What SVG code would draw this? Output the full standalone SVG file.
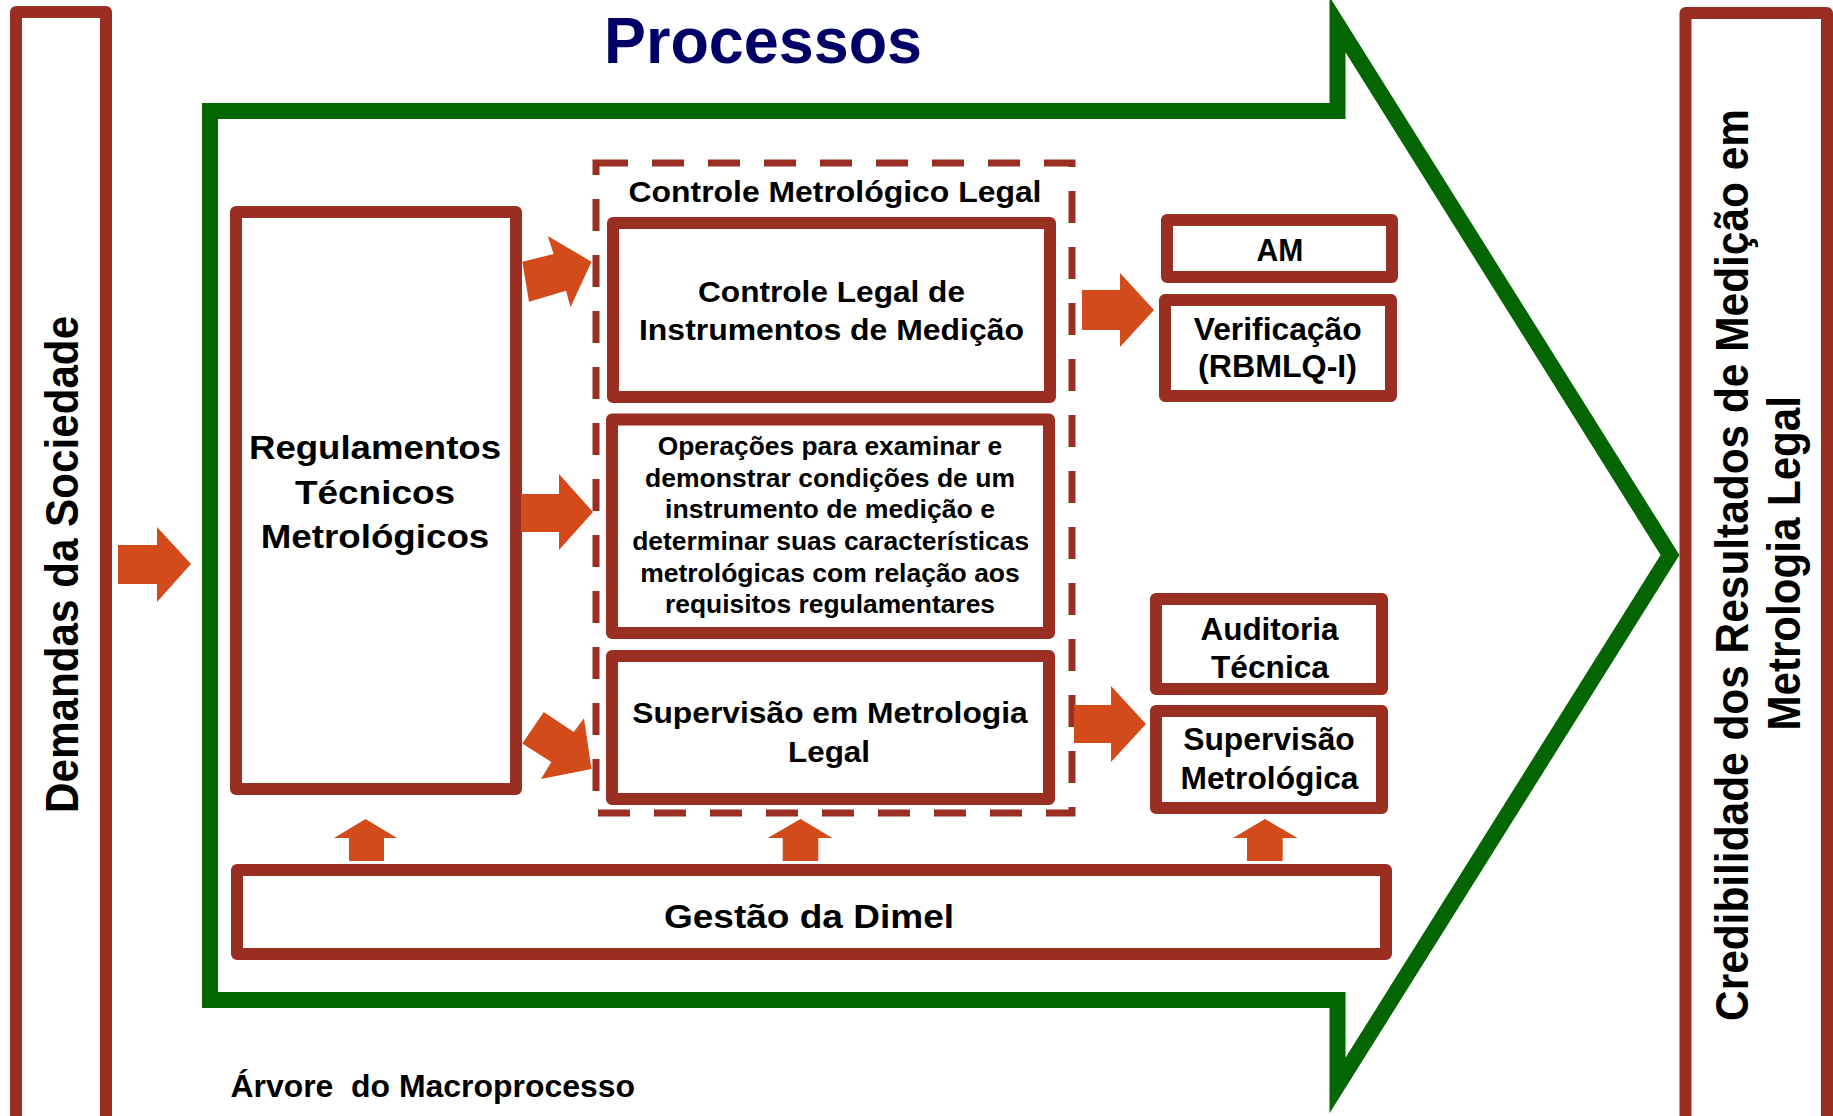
<svg xmlns="http://www.w3.org/2000/svg" width="1833" height="1116" viewBox="0 0 1833 1116">
<style>
.box{fill:#fff;stroke:#9A2E22;stroke-width:12;stroke-linejoin:round}
.dash{fill:none;stroke:#9A2E22;stroke-width:7;stroke-dasharray:32 24}
.green{fill:none;stroke:#036603;stroke-width:16;stroke-linejoin:miter;stroke-miterlimit:10}
.arr{fill:#D34B1A}
text{font-family:"Liberation Sans",Arial,sans-serif;font-weight:bold;fill:#000;text-anchor:middle}
.t30{font-size:30px}
.t31{font-size:31px}
.t26{font-size:25.5px}
.big{font-size:45.5px}
</style>
<rect width="1833" height="1116" fill="#fff"/>
<g id="processos-arrow">
<polygon class="green" points="210,111 1337.5,111 1337.5,24.5 1670,555 1337.5,1085.5 1337.5,1000 210,1000"/>
<text x="763" y="63" style="font-size:64px;fill:#000066" textLength="318" lengthAdjust="spacingAndGlyphs">Processos</text>
</g>
<g id="demandas">
<rect class="box" x="16" y="12" width="90" height="1112"/>
<text class="big" transform="translate(78,564.4) rotate(-90)" textLength="497" lengthAdjust="spacingAndGlyphs">Demandas da Sociedade</text>
</g>
<g id="credibilidade">
<rect class="box" x="1685.5" y="13" width="141.5" height="1112"/>
<text class="big" transform="translate(1747.5,565) rotate(-90)" textLength="912" lengthAdjust="spacingAndGlyphs">Credibilidade dos Resultados de Medição em</text>
<text class="big" transform="translate(1800,563.3) rotate(-90)" textLength="334.5" lengthAdjust="spacingAndGlyphs">Metrologia Legal</text>
</g>
<g id="regulamentos">
<rect class="box" x="236" y="212" width="280" height="577"/>
<text style="font-size:34px" x="375" y="459.4" textLength="252" lengthAdjust="spacingAndGlyphs">Regulamentos</text>
<text style="font-size:34px" x="375" y="504" textLength="160" lengthAdjust="spacingAndGlyphs">Técnicos</text>
<text style="font-size:34px" x="375" y="548.4" textLength="228.6" lengthAdjust="spacingAndGlyphs">Metrológicos</text>
</g>
<g id="controle-metrologico-legal">
<rect class="dash" x="596" y="163" width="476" height="650"/>
<text class="t30" x="835" y="201.5" textLength="413" lengthAdjust="spacingAndGlyphs">Controle Metrológico Legal</text>
</g>
<g id="controle-legal">
<rect class="box" x="613" y="223" width="437" height="174"/>
<text class="t30" x="831.5" y="301.5" textLength="267" lengthAdjust="spacingAndGlyphs">Controle Legal de</text>
<text class="t30" x="831.5" y="340" textLength="385" lengthAdjust="spacingAndGlyphs">Instrumentos de Medição</text>
</g>
<g id="operacoes">
<rect class="box" x="612" y="419.5" width="437" height="213.5"/>
<text class="t26" x="830" y="455" textLength="344.5" lengthAdjust="spacingAndGlyphs">Operações para examinar e</text>
<text class="t26" x="830" y="486.7" textLength="370" lengthAdjust="spacingAndGlyphs">demonstrar condições de um</text>
<text class="t26" x="830" y="518.3" textLength="330" lengthAdjust="spacingAndGlyphs">instrumento de medição e</text>
<text class="t26" x="830.7" y="550" textLength="397" lengthAdjust="spacingAndGlyphs">determinar suas características</text>
<text class="t26" x="830" y="581.7" textLength="379.5" lengthAdjust="spacingAndGlyphs">metrológicas com relação aos</text>
<text class="t26" x="830" y="613.3" textLength="330" lengthAdjust="spacingAndGlyphs">requisitos regulamentares</text>
</g>
<g id="supervisao-ml">
<rect class="box" x="612" y="656" width="437" height="143"/>
<text class="t30" x="830" y="723.3" textLength="395.5" lengthAdjust="spacingAndGlyphs">Supervisão em Metrologia</text>
<text class="t30" x="829" y="761.7" textLength="82" lengthAdjust="spacingAndGlyphs">Legal</text>
</g>
<g id="am">
<rect class="box" x="1167" y="220" width="225" height="57"/>
<text class="t31" x="1280" y="261.4" textLength="46.8" lengthAdjust="spacingAndGlyphs">AM</text>
</g>
<g id="verificacao">
<rect class="box" x="1165" y="300" width="226" height="96"/>
<text class="t31" x="1277.7" y="339.8" textLength="168" lengthAdjust="spacingAndGlyphs">Verificação</text>
<text class="t31" x="1277.5" y="377" textLength="159" lengthAdjust="spacingAndGlyphs">(RBMLQ-I)</text>
</g>
<g id="auditoria">
<rect class="box" x="1156" y="599" width="226" height="90"/>
<text class="t31" x="1269.5" y="639.5" textLength="138" lengthAdjust="spacingAndGlyphs">Auditoria</text>
<text class="t31" x="1270" y="678.2" textLength="118" lengthAdjust="spacingAndGlyphs">Técnica</text>
</g>
<g id="supervisao-metrologica">
<rect class="box" x="1156" y="711" width="226" height="97"/>
<text class="t31" x="1269" y="750.4" textLength="171.6" lengthAdjust="spacingAndGlyphs">Supervisão</text>
<text class="t31" x="1269.5" y="789.4" textLength="178" lengthAdjust="spacingAndGlyphs">Metrológica</text>
</g>
<g id="gestao">
<rect class="box" x="237" y="870" width="1149" height="84"/>
<text style="font-size:34px" x="809" y="927.7" textLength="290" lengthAdjust="spacingAndGlyphs">Gestão da Dimel</text>
</g>
<g id="connectors">
<polygon class="arr" points="118,545 157,545 157,527 191,564 157,602 157,584 118,584"/>
<polygon class="arr" points="521,494 559,494 559,474 593,512 559,550 559,532 521,532"/>
<polygon class="arr" points="522.3,261.7 553.6,254 547.8,236 591.5,261.7 570.5,307.3 566,290.7 529,301.7"/>
<polygon class="arr" points="543.8,711.9 573.7,732 584,718.3 591.5,769 541,779 551.3,762 522.3,743.4"/>
<polygon class="arr" points="1082,290 1120,290 1120,273 1154,310 1120,347 1120,330 1082,330"/>
<polygon class="arr" points="1074,705 1111,705 1111,686 1146,724 1111,762 1111,743 1074,743"/>
<polygon class="arr" points="349,861 349,838 334,838 365.5,819 397,838 384,838 384,861"/>
<polygon class="arr" points="782.7,861 782.7,838 767.7,838 800.5,819 832.4,838 818.3,838 818.3,861"/>
<polygon class="arr" points="1247,861 1247,838 1233,838 1265,819 1297.6,838 1282.7,838 1282.7,861"/>
</g>
<text xml:space="preserve" x="230.4" y="1097" style="font-size:31px;text-anchor:start" textLength="404.6" lengthAdjust="spacingAndGlyphs">Árvore  do Macroprocesso</text>
</svg>
